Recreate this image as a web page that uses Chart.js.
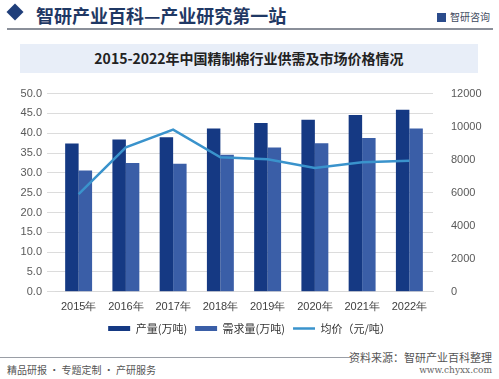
<!DOCTYPE html>
<html>
<head>
<meta charset="utf-8">
<script src="https://cdn.jsdelivr.net/npm/chart.js@4"></script>
<style>
  body { margin: 0; background: #fff; }
  #page { position: relative; width: 499px; height: 379px; overflow: hidden; font-family: "Noto Sans CJK SC", sans-serif; }
  .diamond { position: absolute; left: 9px; top: 6px; width: 12px; height: 12px; background: #1f3e7a; transform: rotate(45deg); }
  .head { position: absolute; left: 36px; top: 2px; font-size: 18px; font-weight: bold; color: #1f3864; }
  .logo { position: absolute; right: 9px; top: 9px; font-size: 10px; color: #404a5e; }
  .logo span { display: inline-block; width: 9px; height: 9px; background: #2b4c8c; margin-right: 4px; vertical-align: -1px; }
  .hline { position: absolute; left: 7px; top: 28px; width: 486px; height: 2px; background: #8a8f99; }
  .tbox { position: absolute; left: 20px; top: 44px; width: 458px; height: 29px; background: #e8eef8; text-align: center; line-height: 29px; font-size: 14px; font-weight: bold; color: #222; }
  #wrap { position: absolute; left: 0; top: 77px; width: 499px; height: 267px; }
  .fline { position: absolute; left: 0; top: 357px; width: 352px; height: 1px; background: #9a9ea6; }
  .src { position: absolute; right: 7px; top: 349px; font-size: 11px; color: #555; }
  .slogan { position: absolute; left: 7px; top: 362px; font-size: 10px; color: #555; }
  .web { position: absolute; right: 7px; top: 365px; font-size: 9px; color: #666; font-family: "DejaVu Serif", serif; }
</style>
</head>
<body>
<div id="page">
  <div class="diamond"></div>
  <div class="head">智研产业百科—产业研究第一站</div>
  <div class="logo"><span></span>智研咨询</div>
  <div class="hline"></div>
  <div class="tbox">2015-2022年中国精制棉行业供需及市场价格情况</div>
  <div id="wrap"><canvas id="chart"></canvas></div>
  <div class="fline"></div>
  <div class="src">资料来源：智研产业百科整理</div>
  <div class="slogan">精品研报 · 专题定制 · 产研服务</div>
  <div class="web">www.chyxx.com</div>
</div>
<script>
const years = ['2015年', '2016年', '2017年', '2018年', '2019年', '2020年', '2021年', '2022年'];
const output = [37.4, 38.4, 39.0, 41.2, 42.6, 43.4, 44.6, 45.9];   // 产量(万吨)
const demand = [30.6, 32.5, 32.3, 34.6, 36.4, 37.5, 38.8, 41.2];   // 需求量(万吨)
const price = [5920, 8740, 9820, 8140, 8020, 7500, 7840, 7940];    // 均价(元/吨)

const tickFont = { family: 'Liberation Sans', size: 11 };

new Chart(document.getElementById('chart').getContext('2d'), {
  type: 'bar',
  data: {
    labels: years,
    datasets: [
      {
        label: '产量(万吨)', data: output, yAxisID: 'y',
        backgroundColor: '#153983', categoryPercentage: 0.57, barPercentage: 1.0, order: 1
      },
      {
        label: '需求量(万吨)', data: demand, yAxisID: 'y',
        backgroundColor: '#3a5ea7', categoryPercentage: 0.57, barPercentage: 1.0, order: 1
      },
      {
        label: '均价（元/吨）', type: 'line', data: price, yAxisID: 'y1',
        borderColor: '#3a93cc', backgroundColor: '#3a93cc', borderWidth: 2.5,
        pointRadius: 0, tension: 0, order: 0
      }
    ]
  },
  options: {
    responsive: true,
    maintainAspectRatio: false,
    animation: false,
    layout: { padding: { top: 6, left: 0, right: 0, bottom: 0 } },
    scales: {
      x: {
        grid: { display: false },
        border: { color: '#d9d9d9' },
        ticks: { color: '#404040', font: tickFont, padding: 1 }
      },
      y: {
        position: 'left', min: 0, max: 50,
        afterFit: s => { s.width = 55; },
        grid: { color: '#dcdcdc' },
        border: { display: false },
        ticks: { stepSize: 5, color: '#595959', font: tickFont, padding: 5, callback: v => v.toFixed(1) }
      },
      y1: {
        position: 'right', min: 0, max: 12000,
        afterFit: s => { s.width = 66; },
        grid: { display: false },
        border: { display: false },
        ticks: { stepSize: 2000, color: '#595959', font: tickFont, padding: 10, callback: v => String(v) }
      }
    },
    plugins: {
      tooltip: { enabled: false },
      legend: {
        position: 'bottom',
        labels: {
          color: '#333',
          font: { family: 'Noto Sans CJK SC', size: 11 },
          usePointStyle: true,
          pointStyleWidth: 22,
          boxHeight: 5,
          padding: 8,
          sort: (a, b) => a.datasetIndex - b.datasetIndex,
          generateLabels: chart => {
            const items = Chart.defaults.plugins.legend.labels.generateLabels(chart);
            items.forEach(it => {
              const ds = chart.data.datasets[it.datasetIndex];
              it.pointStyle = ds.type === 'line' ? 'line' : 'rect';
              if (ds.type !== 'line') it.lineWidth = 0;
            });
            return items;
          }
        }
      }
    }
  }
});
</script>
</body>
</html>
